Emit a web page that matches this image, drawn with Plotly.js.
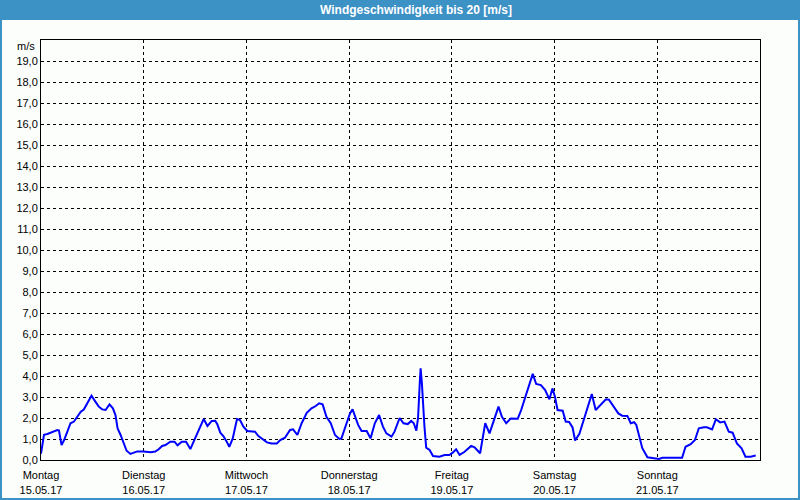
<!DOCTYPE html>
<html>
<head>
<meta charset="utf-8">
<script src="https://cdn.plot.ly/plotly-3.0.1.min.js"></script>
<style>html,body{margin:0;padding:0;background:#fcfefc;}#chart{width:800px;height:500px;}</style>
</head>
<body>
<div id="chart"></div>
<script>
// hours since Monday 15.05.17 00:00
const hours = [0,0.7,1.5,2.3,3.0,3.8,4.2,4.8,5.4,6.2,6.9,7.7,8.5,9.3,10.0,10.8,11.8,12.7,13.5,14.3,15.1,16.0,16.8,17.4,17.9,18.6,19.3,20.0,20.9,21.7,22.5,24.0,25.6,26.7,27.5,28.3,29.1,30.2,31.2,31.9,32.9,33.9,34.9,36.0,37.2,38.0,38.9,39.9,40.7,41.2,41.9,42.6,43.4,44.0,44.8,45.8,46.5,47.3,48.2,49.3,50.0,50.8,52.0,52.8,53.9,55.1,55.9,57.0,58.2,58.9,59.9,60.9,62.1,63.2,64.2,65.0,65.8,66.7,67.7,68.7,69.7,70.2,71.4,72.2,72.8,73.3,74.1,74.9,76.1,77.0,78.0,79.0,79.9,80.7,81.9,82.6,83.8,84.7,85.7,86.5,87.1,87.7,88.1,88.5,88.7,89.0,89.2,89.6,90.0,90.8,91.6,93.1,94.3,95.4,96.2,97.0,97.8,98.9,100.5,101.3,102.6,103.2,103.8,104.8,105.9,106.9,107.7,108.7,109.8,111.4,112.2,113.3,114.1,114.9,115.7,116.8,117.8,118.8,119.5,120.1,120.7,121.9,122.6,123.4,124.2,124.8,125.8,126.9,127.9,128.7,129.6,130.8,132.0,132.7,133.9,134.9,135.8,137.0,137.8,138.6,139.1,139.7,140.5,141.7,143.2,144.4,145.2,149.8,150.6,151.8,152.8,153.7,154.9,155.6,156.8,157.7,158.7,159.7,160.7,161.6,162.6,163.7,164.6,165.8,167.0];
const speed = [0.3,1.2,1.24,1.3,1.35,1.43,1.4,0.71,0.95,1.4,1.75,1.83,2.06,2.3,2.4,2.7,3.06,2.78,2.54,2.41,2.38,2.65,2.46,2.14,1.5,1.19,0.79,0.44,0.29,0.35,0.41,0.4,0.37,0.4,0.51,0.67,0.71,0.87,0.87,0.7,0.87,0.87,0.52,1.03,1.59,1.95,1.62,1.86,1.87,1.7,1.3,1.14,0.87,0.63,1.03,1.95,1.9,1.59,1.38,1.35,1.35,1.14,0.98,0.84,0.79,0.79,0.95,1.06,1.43,1.46,1.19,1.75,2.25,2.46,2.57,2.7,2.65,2.06,1.75,1.19,1.0,1.03,1.75,2.22,2.41,2.14,1.67,1.38,1.38,1.03,1.75,2.14,1.59,1.27,1.11,1.35,2.0,1.75,1.71,1.86,1.75,1.4,2.0,3.65,4.37,3.65,2.86,1.59,0.59,0.48,0.19,0.16,0.24,0.24,0.35,0.51,0.24,0.38,0.67,0.6,0.32,0.95,1.75,1.27,1.9,2.54,2.06,1.75,1.98,1.97,2.38,3.1,3.65,4.1,3.62,3.57,3.33,2.89,3.41,3.0,2.38,2.35,1.83,1.81,1.55,0.93,1.25,1.98,2.7,3.14,2.38,2.62,2.89,2.87,2.54,2.22,2.11,2.1,1.75,1.8,1.67,1.19,0.56,0.13,0.08,0.05,0.11,0.11,0.63,0.75,0.95,1.51,1.56,1.56,1.46,1.94,1.79,1.83,1.35,1.3,0.79,0.56,0.16,0.16,0.21];
const dayTicks = [0,24,48,72,96,120,144];
const dayNames = ["Montag","Dienstag","Mittwoch","Donnerstag","Freitag","Samstag","Sonntag"];
const dayDates = ["15.05.17","16.05.17","17.05.17","18.05.17","19.05.17","20.05.17","21.05.17"];
const yTicks = [0,1,2,3,4,5,6,7,8,9,10,11,12,13,14,15,16,17,18,19];

const W = 800, H = 500, L = 41, R = 40, T = 40, B = 40;
const pw = W - L - R, ph = H - T - B;
const px = v => (v - L) / pw;
const py = v => (H - B - v) / ph;
const blue = '#3c91c5';
const font = 'Liberation Sans, Arial, sans-serif';

const trace = {
  x: hours, y: speed, type: 'scatter', mode: 'lines',
  line: {color: '#0000ff', width: 2}, hoverinfo: 'skip'
};

const layout = {
  width: W, height: H,
  margin: {l: L, r: R, t: T, b: B, pad: 0},
  paper_bgcolor: '#fcfefc', plot_bgcolor: '#fcfefc',
  separators: ',.',
  showlegend: false,
  font: {family: font, size: 11, color: '#000'},
  title: {
    text: '<b>Windgeschwindigkeit bis 20 [m/s]</b>',
    font: {family: font, size: 12, color: '#ffffff'},
    xref: 'paper', x: px(416), xanchor: 'center',
    yref: 'container', y: 1 - 10/H, yanchor: 'middle'
  },
  xaxis: {
    range: [0, 168], tickmode: 'array', tickvals: dayTicks,
    ticktext: dayNames.map((d, i) => d + '<br>' + dayDates[i]),
    showgrid: true, gridcolor: '#000', gridwidth: 1, griddash: '3px,3px',
    showline: true, linecolor: '#000', linewidth: 1, mirror: true,
    zeroline: false, ticks: '', ticklabelstandoff: 5,
    tickfont: {family: font, size: 11, color: '#000'}
  },
  yaxis: {
    range: [0, 20], tickmode: 'array', tickvals: yTicks, tickformat: '.1f',
    showgrid: true, gridcolor: '#000', gridwidth: 1, griddash: '3px,3px',
    showline: true, linecolor: '#000', linewidth: 1, mirror: true,
    zeroline: false, ticks: '', tickfont: {family: font, size: 11, color: '#000'}
  },
  annotations: [{
    text: 'm/s', xref: 'paper', yref: 'paper', x: px(37), y: py(46),
    xanchor: 'right', yanchor: 'middle', showarrow: false,
    font: {family: font, size: 11, color: '#000'}
  }],
  shapes: [
    {type: 'rect', xref: 'paper', yref: 'paper', x0: px(0), x1: px(800), y0: py(20), y1: py(0),
     fillcolor: blue, line: {width: 0}, layer: 'below'},
    {type: 'rect', xref: 'paper', yref: 'paper', x0: px(0), x1: px(2), y0: py(500), y1: py(0),
     fillcolor: blue, line: {width: 0}, layer: 'below'},
    {type: 'rect', xref: 'paper', yref: 'paper', x0: px(798), x1: px(800), y0: py(500), y1: py(0),
     fillcolor: blue, line: {width: 0}, layer: 'below'},
    {type: 'rect', xref: 'paper', yref: 'paper', x0: px(0), x1: px(800), y0: py(500), y1: py(498),
     fillcolor: blue, line: {width: 0}, layer: 'below'}
  ]
};

Plotly.newPlot('chart', [trace], layout, {staticPlot: true, displayModeBar: false});
</script>
</body>
</html>
